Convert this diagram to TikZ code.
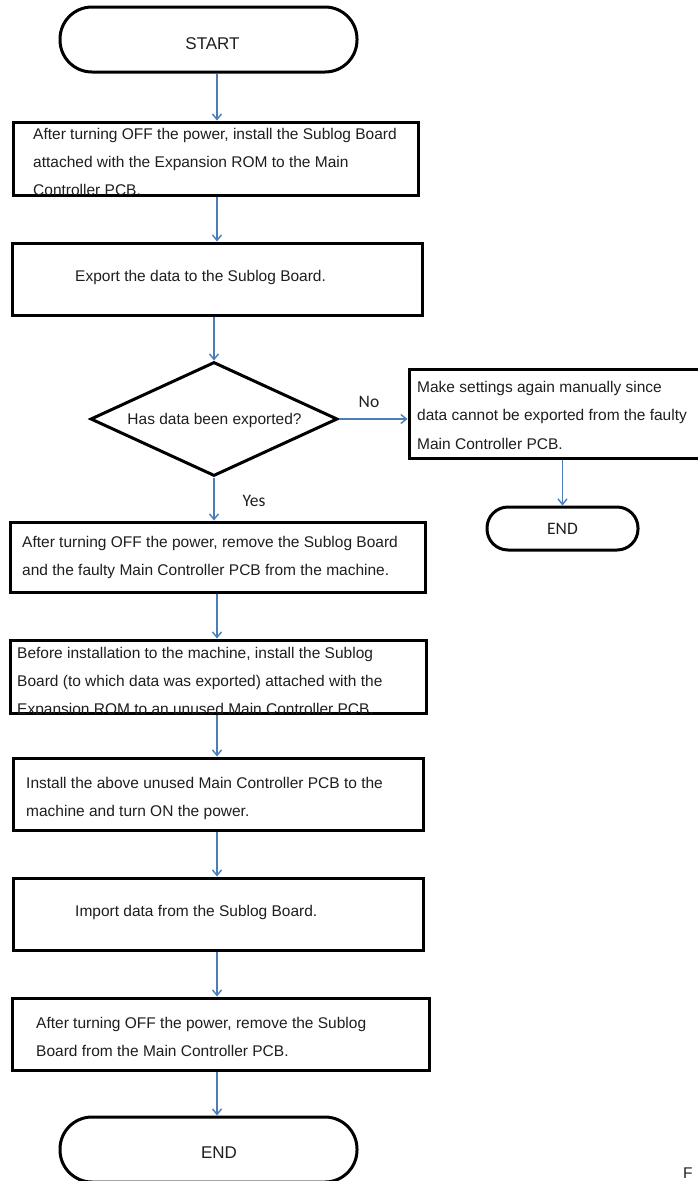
\documentclass[tikz,border=0pt]{standalone}
\usepackage{fontspec}
\setmainfont{Liberation Sans}
\newfontfamily\calfont{Carlito}
\usetikzlibrary{arrows.meta,shapes.geometric}
\definecolor{arrowblue}{RGB}{74,126,187}
\definecolor{ink}{RGB}{30,30,30}
\begin{document}
\begin{tikzpicture}[x=1pt,y=-1pt,
  stepbox/.style={draw=black,line width=3pt,rectangle,inner sep=0pt},
  term/.style={draw=black,line width=3pt,rectangle,rounded corners=#1,inner sep=0pt},
  txt/.style={anchor=base west,inner sep=0pt,font=\fontsize{15.5}{28}\selectfont,text=ink},
  ctxt/.style={anchor=base,inner sep=0pt,font=\fontsize{15.5}{28}\selectfont,text=ink},
  lbl/.style={anchor=base,inner sep=0pt,font=\calfont\fontsize{17.5}{20}\selectfont,text=ink},
  arr/.style={draw=arrowblue,line width=1.4pt,-{Straight Barb[length=5.5pt,width=9pt]}},
]
\useasboundingbox (0,0) rectangle (698,1181);
\coordinate (ax) at (217,0);
% terminals
\node[term=32pt,minimum width=297pt,minimum height=65pt] (start) at (208.5,39.5) {};
\node[ctxt,font=\fontsize{17}{20}\selectfont] (starttxt) at (212.5,49) {START};
\node[term=32pt,minimum width=297pt,minimum height=65pt] (end) at (208.5,1149.5) {};
\node[ctxt,font=\fontsize{17}{20}\selectfont] (endtxt) at (219,1158) {END};
\node[term=21pt,minimum width=151pt,minimum height=43pt] (rend) at (562.5,528.5) {};
\node[lbl] (rendtxt) at (562.5,534) {END};
% boxes
\node[stepbox,minimum width=405pt,minimum height=73pt] (b1) at (215.5,158.5) {};
\node[stepbox,minimum width=410pt,minimum height=72pt] (b2) at (217,279) {};
\node[draw=black,line width=3pt,shape=diamond,inner sep=0pt,minimum width=247pt,minimum height=114pt] (dia) at (214,419) {};
\node[stepbox,minimum width=293pt,minimum height=89pt] (rbox) at (555.5,413.5) {};
\node[stepbox,minimum width=415pt,minimum height=70pt] (b3) at (217.5,557) {};
\node[stepbox,minimum width=416pt,minimum height=73pt] (b4) at (218,676.5) {};
\node[stepbox,minimum width=410pt,minimum height=72pt] (b5) at (218,794) {};
\node[stepbox,minimum width=410pt,minimum height=72pt] (b6) at (218,914) {};
\node[stepbox,minimum width=417pt,minimum height=72pt] (b7) at (220.5,1034) {};
% texts
\begin{scope}
\clip (b1.south west) rectangle (b1.north east);
\node[txt] (t1a) at (33,139) {After turning OFF the power, install the Sublog Board};
\node[txt] (t1b) at (33,167.3) {attached with the Expansion ROM to the Main};
\node[txt] (t1c) at (33,195.6) {Controller PCB.};
\end{scope}
\node[txt] (t2) at (75,281) {Export the data to the Sublog Board.};
\node[ctxt] (tdia) at (214.5,424.5) {Has data been exported?};
\node[txt] (tra) at (417,392) {Make settings again manually since};
\node[txt] (trb) at (417,420.5) {data cannot be exported from the faulty};
\node[txt] (trc) at (417,449) {Main Controller PCB.};
\node[txt] (t3a) at (22,547) {After turning OFF the power, remove the Sublog Board};
\node[txt] (t3b) at (22,575) {and the faulty Main Controller PCB from the machine.};
\begin{scope}
\clip (b4.south west) rectangle (b4.north east);
\node[txt] (t4a) at (17,658) {Before installation to the machine, install the Sublog};
\node[txt] (t4b) at (17,686) {Board (to which data was exported) attached with the};
\node[txt] (t4c) at (17,714) {Expansion ROM to an unused Main Controller PCB.};
\end{scope}
\node[txt] (t5a) at (26,788.5) {Install the above unused Main Controller PCB to the};
\node[txt] (t5b) at (26,816.5) {machine and turn ON the power.};
\node[txt] (t6) at (75,916.5) {Import data from the Sublog Board.};
\node[txt] (t7a) at (36,1028.5) {After turning OFF the power, remove the Sublog};
\node[txt] (t7b) at (36,1056) {Board from the Main Controller PCB.};
\node[lbl] (no) at (369,407.5) {No};
\node[lbl] (yes) at (254,506) {Yes};
\node[txt] (fig) at (683,1178) {F};
% connectors
\draw[arr] (start.south -| ax) -- (b1.north -| ax);
\draw[arr] (b1.south -| ax) -- (b2.north -| ax);
\draw[arr] (b2.south -| dia.north) -- (dia.north);
\draw[arr] (dia.east) -- (dia.east -| rbox.west);
\draw[arr] (rbox.south -| rend.north) -- (rend.north);
\draw[arr] (dia.south) -- (b3.north -| dia.south);
\draw[arr] (b3.south -| ax) -- (b4.north -| ax);
\draw[arr] (b4.south -| ax) -- (b5.north -| ax);
\draw[arr] (b5.south -| ax) -- (b6.north -| ax);
\draw[arr] (b6.south -| ax) -- (b7.north -| ax);
\draw[arr] (b7.south -| ax) -- (end.north -| ax);
\end{tikzpicture}
\end{document}
